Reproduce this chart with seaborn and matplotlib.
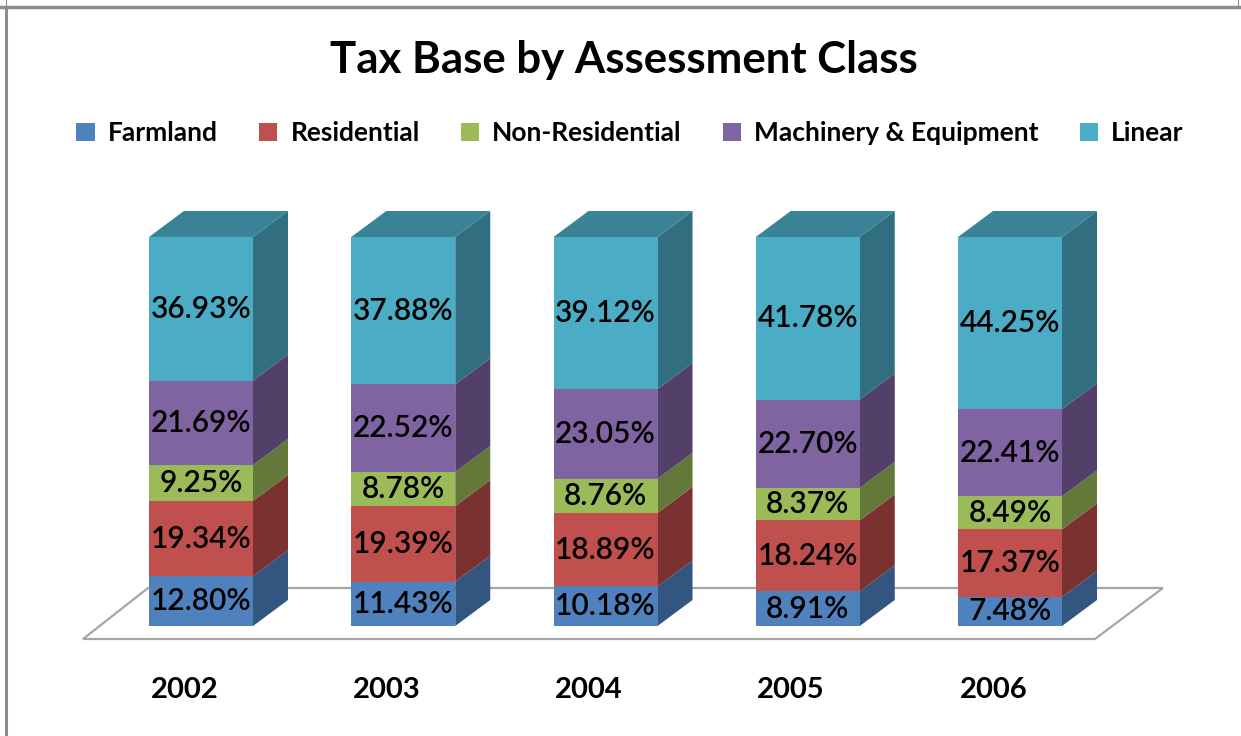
"""Tax base by assessment class: 3D-style 100% stacked columns."""

import matplotlib
matplotlib.use("Agg")
import matplotlib.pyplot as plt
from matplotlib.patches import Polygon, Patch
from matplotlib.lines import Line2D
import numpy as np
import seaborn as sns

years = ["2002", "2003", "2004", "2005", "2006"]
classes = ["Farmland", "Residential", "Non-Residential", "Machinery & Equipment", "Linear"]
farmland = [12.80, 11.43, 10.18, 8.91, 7.48]
residential = [19.34, 19.39, 18.89, 18.24, 17.37]
non_residential = [9.25, 8.78, 8.76, 8.37, 8.49]
machinery = [21.69, 22.52, 23.05, 22.70, 22.41]
linear = [36.93, 37.88, 39.12, 41.78, 44.25]

front_colors = ["#4F81BD", "#C0504D", "#9BBB59", "#8064A2", "#4BACC6"]
side_colors = ["#335681", "#7B3130", "#647839", "#524069", "#316F80"]
top_color = "#3A8397"

# pixel layout of the reference
W, H, DPI = 1241, 736, 100
X0_PX, STEP_PX = 201, 202.25
Y0_PX, Y100_PX = 626, 237
BAR_W_PX, DEPTH_X_PX, DEPTH_Y_PX = 104, 35, 26


def px_to_data(px, py):
	x = (px - X0_PX) / STEP_PX
	y = (Y0_PX - py) / (Y0_PX - Y100_PX) * 100
	return x, y


def main():
	sns.set_theme(style="white")
	plt.rcParams["font.family"] = ["Lato", "DejaVu Sans"]
	plt.rcParams["text.color"] = "black"

	fig = plt.figure(figsize=(W / DPI, H / DPI), dpi=DPI)
	ax = fig.add_axes([0, 0, 1, 1])
	ax.set_axis_off()

	series = [farmland, residential, non_residential, machinery, linear]
	values = np.array(series)
	tops = np.cumsum(values, axis=0)
	bottoms = tops - values

	bar_w = BAR_W_PX / STEP_PX
	dx = DEPTH_X_PX / STEP_PX
	dy = DEPTH_Y_PX / (Y0_PX - Y100_PX) * 100

	# floor
	corners = [px_to_data(83, 639), px_to_data(1095, 639), px_to_data(1163, 588), px_to_data(148, 588)]
	ax.add_patch(Polygon(corners, closed=True, facecolor="white", edgecolor="#A6A6A6", lw=1.6, zorder=1))

	# front faces, drawn tallest first so they stack
	for k in range(len(classes) - 1, -1, -1):
		sns.barplot(x=years, y=tops[k], color=front_colors[k], saturation=1, width=bar_w,
			linewidth=0, ax=ax, zorder=3)

	# side and top faces
	for i in range(len(years)):
		xr = i + bar_w / 2
		for k in range(len(classes)):
			b, t = bottoms[k, i], tops[k, i]
			ax.add_patch(Polygon([(xr, b), (xr, t), (xr + dx, t + dy), (xr + dx, b + dy)],
				closed=True, facecolor=side_colors[k], edgecolor="none", zorder=2))
		top = tops[-1, i]
		xl = i - bar_w / 2
		ax.add_patch(Polygon([(xl, top), (xr, top), (xr + dx, top + dy), (xl + dx, top + dy)],
			closed=True, facecolor=top_color, edgecolor="none", zorder=2))

	# data labels
	for k in range(len(classes)):
		for i in range(len(years)):
			ax.text(i, bottoms[k, i] + values[k, i] / 2, f"{values[k, i]:.2f}%",
				ha="center", va="center", fontsize=21.5, fontweight="semibold", zorder=5)

	# category labels on the floor front edge
	ly = px_to_data(0, 690)[1]
	for i, yr in enumerate(years):
		ax.text(i - 0.082, ly, yr, ha="center", va="center", fontsize=21, fontweight="bold")

	x_lo = px_to_data(0, 0)[0]
	x_hi = px_to_data(W, 0)[0]
	y_hi = px_to_data(0, 0)[1]
	y_lo = px_to_data(0, H)[1]
	ax.set_xlim(x_lo, x_hi)
	ax.set_ylim(y_lo, y_hi)
	ax.set_xlabel("")
	ax.set_ylabel("")

	fig.text(624 / W, 1 - 60 / H, "Tax Base by Assessment Class", ha="center", va="center",
		fontsize=31.5, fontweight="bold")

	handles = [Patch(facecolor=c, edgecolor="none") for c in front_colors]
	fig.legend(handles, classes, loc="center", bbox_to_anchor=(630 / W, 1 - 133 / H), ncol=5,
		frameon=False, prop={"size": 19, "weight": "bold"}, handlelength=0.7, handleheight=0.7,
		handletextpad=0.5, columnspacing=1.55)

	# outer frame
	fig.add_artist(Line2D([0, 1], [1 - 6.5 / H, 1 - 6.5 / H], color="#8C8C8C", lw=2.5))
	fig.add_artist(Line2D([6 / W, 6 / W], [0, 1 - 6.5 / H], color="#8C8C8C", lw=2.2))
	fig.add_artist(Line2D([6 / W, 6 / W], [1 - 6.5 / H, 1], color="#8C8C8C", lw=0.8))
	fig.add_artist(Line2D([1238 / W, 1238 / W], [1 - 6.5 / H, 1], color="#8C8C8C", lw=0.8))

	fig.savefig("out.png", dpi=DPI)
	plt.close(fig)


if __name__ == "__main__":
	main()
